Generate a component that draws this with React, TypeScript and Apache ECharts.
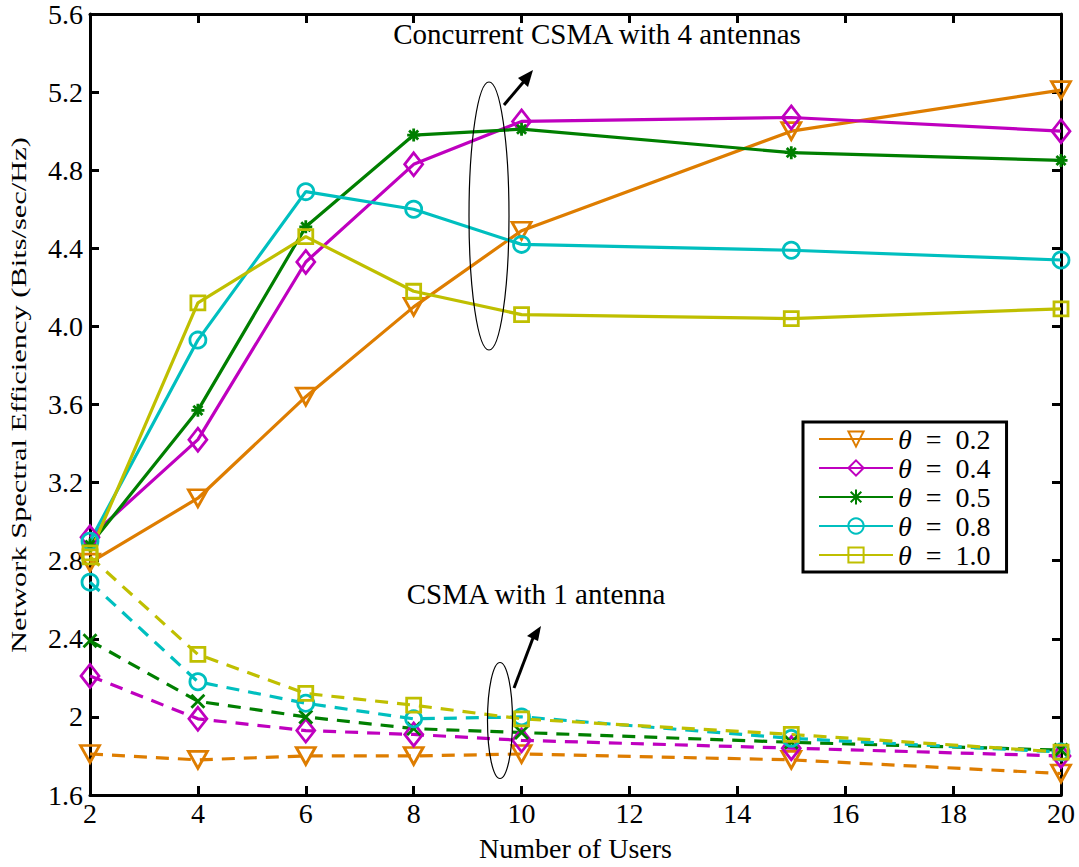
import React, { useEffect, useRef } from "react";
import * as echarts from "echarts";

const users = [2, 4, 6, 8, 10, 15, 20];
const thetaLabels = ["0.2", "0.4", "0.5", "0.8", "1.0"];
const colors = ["#DE7D00", "#BF00BF", "#007F00", "#00BFBF", "#BFBF00"];

// Concurrent CSMA with 4 antennas (solid)
const conc02 = [2.79, 3.12, 3.64, 4.10, 4.49, 5.00, 5.21];
const conc04 = [2.92, 3.42, 4.33, 4.83, 5.05, 5.07, 5.00];
const conc05 = [2.88, 3.57, 4.51, 4.98, 5.01, 4.89, 4.85];
const conc08 = [2.90, 3.93, 4.69, 4.60, 4.42, 4.39, 4.34];
const conc10 = [2.84, 4.12, 4.46, 4.18, 4.06, 4.04, 4.09];

// CSMA with 1 antenna (dashed)
const csma02 = [1.81, 1.78, 1.80, 1.80, 1.81, 1.78, 1.71];
const csma04 = [2.21, 1.99, 1.93, 1.91, 1.88, 1.84, 1.80];
const csma05 = [2.39, 2.08, 2.00, 1.94, 1.92, 1.87, 1.83];
const csma08 = [2.69, 2.18, 2.07, 1.99, 2.00, 1.89, 1.82];
const csma10 = [2.82, 2.32, 2.12, 2.06, 1.99, 1.91, 1.82];

const yTickLabels = ["1.6", "2", "2.4", "2.8", "3.2", "3.6", "4.0", "4.4", "4.8", "5.2", "5.6"];
const xTickLabels = ["2", "4", "6", "8", "10", "12", "14", "16", "18", "20"];

const concSeries = [conc02, conc04, conc05, conc08, conc10];
const csmaSeries = [csma02, csma04, csma05, csma08, csma10];

const FONT = "'Liberation Serif', 'DejaVu Serif', serif";

const starPath = "path://M5,0 L5,10 M0,5 L10,5 M1.5,1.5 L8.5,8.5 M8.5,1.5 L1.5,8.5";
const xPath = "path://M0,0 L10,10 M10,0 L0,10";
const downTri = "path://M0,0 L10,0 L5,9 Z";

const solidSymbols = [downTri, "diamond", starPath, "circle", "rect"];
const solidSizes: any[] = [[19, 17], [18, 23], 13, 16, 14];
const dashSymbols = [downTri, "diamond", xPath, "circle", "rect"];
const dashSizes: any[] = [[19, 17], [18, 23], 13, 16, 14];

export default function App() {
  const ref = useRef<HTMLDivElement>(null);
  useEffect(() => {
    if (!ref.current) return;
    const chart = echarts.init(ref.current, null, { renderer: "svg" });
    const names = thetaLabels.map((t) => "θ = " + t);
    const series: any[] = [];
    concSeries.forEach((arr, i) => {
      series.push({
        name: names[i],
        type: "line",
        data: users.map((u, j) => [u, arr[j]]),
        symbol: solidSymbols[i],
        symbolSize: solidSizes[i],
        showAllSymbol: true,
        lineStyle: { color: colors[i], width: 3.2 },
        itemStyle: { color: "none", borderColor: colors[i], borderWidth: 2.8 },
        z: 3,
      });
    });
    csmaSeries.forEach((arr, i) => {
      series.push({
        name: "csma " + names[i],
        type: "line",
        data: users.map((u, j) => [u, arr[j]]),
        symbol: dashSymbols[i],
        symbolSize: dashSizes[i],
        showAllSymbol: true,
        lineStyle: { color: colors[i], width: 3.2, type: [13, 9] },
        itemStyle: { color: "none", borderColor: colors[i], borderWidth: 2.8 },
        z: 3,
      });
    });

    const axisLine = { show: true, lineStyle: { color: "#000", width: 3 } };
    const axisTick = { show: true, inside: true, length: 9, lineStyle: { color: "#000", width: 3 } };

    chart.setOption({
      animation: false,
      backgroundColor: "#fff",
      grid: { left: 90, right: 18, top: 10, bottom: 72, containLabel: false },
      xAxis: [
        {
          type: "value",
          min: 2,
          max: 20,
          interval: 2,
          position: "bottom",
          axisLine,
          axisTick,
          splitLine: { show: false },
          axisLabel: {
            color: "#000",
            fontFamily: FONT,
            fontSize: 28,
            margin: 4,
            formatter: (v: number) => xTickLabels[Math.round((v - 2) / 2)] ?? "",
          },
          name: "Number of Users",
          nameLocation: "middle",
          nameGap: 39,
          nameTextStyle: { color: "#000", fontFamily: FONT, fontSize: 28 },
        },
        {
          type: "value",
          min: 2,
          max: 20,
          interval: 2,
          position: "top",
          axisLine,
          axisTick,
          splitLine: { show: false },
          axisLabel: { show: false },
        },
      ],
      yAxis: [
        {
          type: "value",
          min: 1.6,
          max: 5.6,
          interval: 0.4,
          position: "left",
          axisLine,
          axisTick,
          splitLine: { show: false },
          axisLabel: {
            color: "#000",
            fontFamily: FONT,
            fontSize: 28,
            margin: 7,
            formatter: (v: number) => yTickLabels[Math.round((v - 1.6) / 0.4)] ?? "",
          },
        },
        {
          type: "value",
          min: 1.6,
          max: 5.6,
          interval: 0.4,
          position: "right",
          axisLine,
          axisTick,
          splitLine: { show: false },
          axisLabel: { show: false },
        },
      ],
      legend: {
        data: names,
        orient: "vertical",
        left: 803,
        top: 422,
        padding: [3, 16, 3, 15],
        backgroundColor: "#fff",
        borderColor: "#000",
        borderWidth: 3,
        itemWidth: 74,
        itemHeight: 19,
        itemGap: 1,
        textStyle: {
          color: "#000",
          fontFamily: FONT,
          fontSize: 28,
          lineHeight: 28,
          rich: { i: { fontStyle: "italic", fontFamily: FONT, fontSize: 28, lineHeight: 28 } },
        },
        formatter: (n: string) => n.replace("θ = ", "{i|θ}\u2002=\u2002"),
      },
      graphic: [
        {
          type: "text",
          x: 19,
          y: 395,
          rotation: Math.PI / 2,
          scaleX: 1.45,
          scaleY: 1,
          style: {
            text: "Network Spectral Efficiency (Bits/sec/Hz)",
            font: "21px " + FONT,
            fill: "#000",
            align: "center",
            verticalAlign: "middle",
          },
          z: 10,
        },
        {
          type: "ellipse",
          shape: { cx: 489, cy: 216, rx: 20, ry: 134 },
          style: { fill: "none", stroke: "#000", lineWidth: 1.2 },
          z: 10,
        },
        {
          type: "line",
          shape: { x1: 504, y1: 105, x2: 526, y2: 79 },
          style: { stroke: "#000", lineWidth: 3 },
          z: 10,
        },
        {
          type: "polygon",
          shape: { points: [[533, 70], [518, 78], [528, 87]] },
          style: { fill: "#000" },
          z: 10,
        },
        {
          type: "text",
          x: 597,
          y: 34,
          style: {
            text: "Concurrent CSMA with 4 antennas",
            font: "29px " + FONT,
            fill: "#000",
            align: "center",
            verticalAlign: "middle",
          },
          z: 10,
        },
        {
          type: "ellipse",
          shape: { cx: 500, cy: 720.5, rx: 12.5, ry: 58 },
          style: { fill: "none", stroke: "#000", lineWidth: 1.2 },
          z: 10,
        },
        {
          type: "line",
          shape: { x1: 514, y1: 688, x2: 533, y2: 638 },
          style: { stroke: "#000", lineWidth: 3 },
          z: 10,
        },
        {
          type: "polygon",
          shape: { points: [[541, 626], [527, 636], [538, 641]] },
          style: { fill: "#000" },
          z: 10,
        },
        {
          type: "text",
          x: 536,
          y: 594,
          style: {
            text: "CSMA with 1 antenna",
            font: "29px " + FONT,
            fill: "#000",
            align: "center",
            verticalAlign: "middle",
          },
          z: 10,
        },
      ],
      series,
    });
    return () => chart.dispose();
  }, []);
  return (
    <div
      ref={ref}
      style={{ position: "absolute", left: 0, top: 0, width: 1079, height: 867 }}
    />
  );
}
